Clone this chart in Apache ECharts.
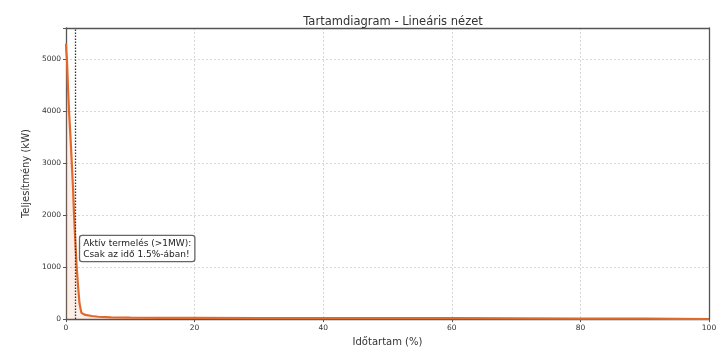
<!DOCTYPE html>
<html><head><meta charset="utf-8">
<script src="https://cdn.jsdelivr.net/npm/echarts@6/dist/echarts.min.js"></script>
<style>html,body{margin:0;padding:0;background:#fff}#c{width:721px;height:352px}</style>
</head><body><div id="c"></div>
<script>
const durationPct = [0, 0.05, 0.15, 0.3, 0.47, 0.7, 0.9, 1.1, 1.25, 1.45, 1.66, 1.9, 2.1, 2.4, 3, 4, 5, 7, 10, 15, 20, 30, 40, 50, 60, 70, 80, 90, 95, 100];
const powerKw = [5300, 5150, 5000, 4500, 4000, 3500, 3000, 2500, 2000, 1500, 1000, 600, 300, 120, 80, 60, 45, 35, 28, 25, 22, 20, 19, 18, 17, 14, 11, 8, 6, 2];
const xTicks = [0, 20, 40, 60, 80, 100];
const yTicks = [0, 1000, 2000, 3000, 4000, 5000];
const activeThresholdPct = 1.5;
const annotationText = 'Aktív termelés (>1MW):\nCsak az idő 1.5%-ában!';
const annotationAnchor = [2.2, 1600];

const font = 'DejaVu Sans';
const spine = {show: true, onZero: false, lineStyle: {color: '#555', width: 1.3}};
const chart = echarts.init(document.getElementById('c'), null, {renderer: 'canvas'});
const points = durationPct.map((x, i) => [x, powerKw[i]]);
chart.setOption({
  animation: false,
  backgroundColor: '#fff',
  title: {
    text: 'Tartamdiagram - Lineáris nézet', left: 388, top: 11, textAlign: 'center',
    textStyle: {fontFamily: font, fontSize: 11.5, fontWeight: 'normal', color: '#333'}
  },
  grid: {left: 66, right: 12, top: 28, bottom: 29},
  xAxis: [{
    type: 'value', min: 0, max: 100, interval: 20,
    name: 'Időtartam (%)', nameLocation: 'middle', nameGap: 16,
    nameTextStyle: {fontFamily: font, fontSize: 10, color: '#333'},
    axisLine: spine,
    axisTick: {show: true, length: 3, lineStyle: {color: '#555'}},
    axisLabel: {fontFamily: font, fontSize: 7.5, color: '#333', margin: 5,
      formatter: v => xTicks.includes(v) ? String(v) : ''},
    splitLine: {show: true, lineStyle: {color: '#d8d8d8', type: [2, 2]}}
  }, {
    type: 'value', min: 0, max: 100, position: 'top', z: 5,
    axisLine: spine, axisTick: {show: false}, axisLabel: {show: false}, splitLine: {show: false}
  }],
  yAxis: [{
    type: 'value', min: 0, max: 5600, interval: 1000,
    name: 'Teljesítmény (kW)', nameLocation: 'middle', nameGap: 30, nameRotate: 90,
    nameTextStyle: {fontFamily: font, fontSize: 10, color: '#333'},
    axisLine: spine,
    axisTick: {show: true, length: 3, lineStyle: {color: '#555'}},
    axisLabel: {fontFamily: font, fontSize: 7.5, color: '#333', margin: 5,
      formatter: v => yTicks.includes(v) ? String(v) : ''},
    splitLine: {show: true, lineStyle: {color: '#d8d8d8', type: [2, 2]}}
  }, {
    type: 'value', min: 0, max: 5600, position: 'right', z: 5,
    axisLine: spine, axisTick: {show: false}, axisLabel: {show: false}, splitLine: {show: false}
  }],
  series: [{
    type: 'line', data: points, showSymbol: false, smooth: false,
    lineStyle: {color: '#e2692c', width: 2.2},
    areaStyle: {color: 'rgba(240,140,90,0.2)'},
    markLine: {
      silent: true, symbol: 'none', label: {show: false},
      lineStyle: {color: '#333', type: [1.5, 1.5], width: 1.3},
      data: [{xAxis: activeThresholdPct}]
    },
    z: 3
  }]
});
const p = chart.convertToPixel({gridIndex: 0}, annotationAnchor);
chart.setOption({
  graphic: [{
    type: 'text', x: p[0], y: p[1], z: 10,
    style: {
      text: annotationText, font: '9px "' + font + '"', fill: '#222', lineHeight: 11,
      backgroundColor: '#fff', borderColor: '#666', borderWidth: 1.3, borderRadius: 2,
      padding: [2, 3, 1, 3]
    }
  }]
});
</script></body></html>
